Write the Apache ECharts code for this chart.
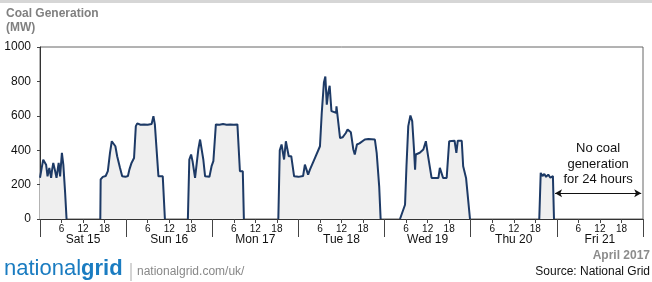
<!DOCTYPE html>
<html>
<head>
<meta charset="UTF-8">
<title>Coal Generation</title>
<style>
  html, body { margin: 0; padding: 0; background: #fff; }
  #chart { width: 652px; height: 282px; }
</style>
<script src="https://cdn.jsdelivr.net/npm/echarts@6/dist/echarts.min.js"></script>
</head>
<body>
<div id="chart"></div>
<script>
// hours since Sat 15 00:00, coal output in MW; null breaks the line between runs
var hours = [
  0, 0.5, 0.9, 1.3, 1.7, 2.1, 2.6, 3.1, 3.4, 3.7, 4.1, 4.6, 5.2, 5.6, 6.1, 6.5, 7.0, 7.4, 7.5,
  16.8, 16.9, 17.5, 18.3, 18.9, 19.5, 20.0, 20.5, 21.0, 21.5, 22.3, 22.9, 23.8, 24.5, 24.9, 25.5, 26.2, 26.7, 27.1,
  28, 29, 30, 31.1, 31.6, 32.0, 32.5, 33.0, 34.2, 34.8, 35,
  41.2, 41.6, 42.1, 42.5, 43.2, 43.6, 44.1, 44.6, 45.0, 45.5, 46.0, 47.2, 47.8, 48.3, 49.0,
  50, 51, 52, 53, 54, 55.0, 55.3, 55.7, 56.5, 56.8, 57,
  66.4, 66.8, 67.3, 68.0, 68.5, 68.9, 69.3, 70.0, 70.8, 72, 73.3, 73.8, 74.2, 74.7, 75.2, 76.5, 78.0, 78.5,
  79.1, 79.5, 79.9, 80.3, 80.7, 81.2, 82.5, 82.6, 83.1, 83.6, 84.3, 85.2, 85.7, 86.1, 86.6, 87.3, 87.7, 88.3,
  89, 90.5, 91.5, 93.3, 93.8, 94.5, 94.9, 95,
  100.3, 101.7, 102.1, 102.6, 103.2, 103.7, 104.2, 104.5, 104.7, 105.8, 106.8, 107.5, 108.2, 109.1, 111.0,
  111.4, 111.9, 112.3, 113.3, 114.0, 114.5, 115.5, 116.0, 116.4, 117.5, 117.9, 118.7, 119.2, 119.8, 120,
  139.1, 139.5, 140, 140.5, 141, 141.6, 142.2, 142.9, 143.2
];
var coalMW = [
  240, 300, 345, 335, 316, 248, 297, 239, 290, 326, 290, 239, 326, 248, 385, 316, 153, 0, null,
  0, 230, 245, 250, 278, 385, 452, 458, 423, 365, 297, 248, 245, 250, 287, 326, 355, 540, 556,
  548, 550, 548, 552, 598, 550, 540, 248, 248, 0, null,
  0, 346, 375, 336, 239, 245, 404, 462, 458, 346, 248, 245, 307, 336, 550,
  548, 552, 548, 550, 548, 550, 540, 278, 278, 0, null,
  0, 400, 433, 346, 452, 448, 365, 365, 248, 245, 250, 316, 310, 258, 287, 350, 423, 618,
  793, 828, 665, 735, 775, 627, 618, 655, 650, 470, 475, 500, 521, 515, 505, 404, 375, 433,
  440, 462, 465, 462, 385, 190, 0, null,
  0, 83, 307, 540, 602, 569, 404, 287, 375, 385, 404, 452, 355, 239, 239,
  297, 290, 239, 239, 452, 462, 455, 385, 455, 455, 307, 239, 235, 0, null,
  0, 268, 250, 262, 245, 258, 240, 250, 0
];
var days = ['Sat 15', 'Sun 16', 'Mon 17', 'Tue 18', 'Wed 19', 'Thu 20', 'Fri 21'];
var noCoalSpan = [143.5, 167.5];
var noCoalNote = 'No coal\ngeneration\nfor 24 hours';

var points = hours.map(function (h, i) { return [h, coalMW[i]]; });

var font = '"Liberation Sans", Arial, sans-serif';
var chart = echarts.init(document.getElementById('chart'));

chart.setOption({
  animation: false,
  textStyle: { fontFamily: font },
  grid: { left: 40, right: 9, top: 47, bottom: 63, show: true, borderColor: '#666', borderWidth: 1 },
  xAxis: [{
    type: 'value', min: 0, max: 168, interval: 6,
    axisLine: { show: true, lineStyle: { color: '#333' } },
    axisTick: { show: true, length: 4, lineStyle: { color: '#444' } },
    splitLine: { show: false },
    axisLabel: {
      fontSize: 10, color: '#111', margin: 5, fontFamily: font,
      formatter: function (v) { return v % 24 === 0 ? '' : String(v % 24); }
    }
  }, {
    type: 'category', data: days, position: 'bottom', boundaryGap: true,
    axisLine: { show: false },
    axisTick: { show: true, length: 18, interval: 0, lineStyle: { color: '#444' } },
    axisLabel: { fontSize: 12, color: '#111', margin: 15, interval: 0, fontFamily: font }
  }],
  yAxis: {
    type: 'value', min: 0, max: 1000, interval: 200,
    axisLine: { show: true, lineStyle: { color: '#333' } },
    axisTick: { show: true, length: 3, lineStyle: { color: '#444' } },
    splitLine: { show: false },
    axisLabel: {
      fontSize: 12, color: '#111', margin: 9, fontFamily: font,
      formatter: function (v) { return String(v); }
    }
  },
  series: [{
    type: 'line',
    data: points,
    showSymbol: false,
    connectNulls: false,
    lineStyle: { color: '#1d3a66', width: 2 },
    areaStyle: { color: '#efefef', opacity: 1 },
    markLine: {
      silent: true,
      symbol: ['arrow', 'arrow'],
      symbolSize: [6, 7],
      lineStyle: { color: '#111', width: 1, type: 'solid' },
      label: {
        show: true, position: 'insideMiddleTop', distance: 6,
        formatter: noCoalNote, fontSize: 13, lineHeight: 15.5, color: '#111', fontFamily: font
      },
      data: [[{ coord: [noCoalSpan[0], 150] }, { coord: [noCoalSpan[1], 150] }]]
    }
  }],
  graphic: [
    { type: 'rect', left: 0, top: 0, shape: { width: 652, height: 3 }, style: { fill: '#d6d6d6' } },
    { type: 'text', left: 6, top: 8, style: { text: 'Coal Generation', font: 'bold 12px ' + font, fill: '#808080' } },
    { type: 'text', left: 6, top: 22, style: { text: '(MW)', font: 'bold 12px ' + font, fill: '#808080' } },
    {
      type: 'text', left: 4, top: 258,
      style: {
        text: '{a|national}{b|grid}',
        rich: {
          a: { fontSize: 22, fontFamily: font, fill: '#1a7cc1' },
          b: { fontSize: 22, fontFamily: font, fontWeight: 'bold', fill: '#1a7cc1' }
        }
      }
    },
    { type: 'line', shape: { x1: 131, y1: 263, x2: 131, y2: 281 }, style: { stroke: '#aaa', lineWidth: 1 } },
    { type: 'text', left: 137, top: 266, style: { text: 'nationalgrid.com/uk/', font: '12px ' + font, fill: '#888' } },
    { type: 'text', right: 2, top: 250, style: { text: 'April 2017', font: 'bold 12px ' + font, fill: '#8c8c8c' } },
    { type: 'text', right: 2, top: 266, style: { text: 'Source: National Grid', font: '12px ' + font, fill: '#111' } }
  ]
});
</script>
</body>
</html>
